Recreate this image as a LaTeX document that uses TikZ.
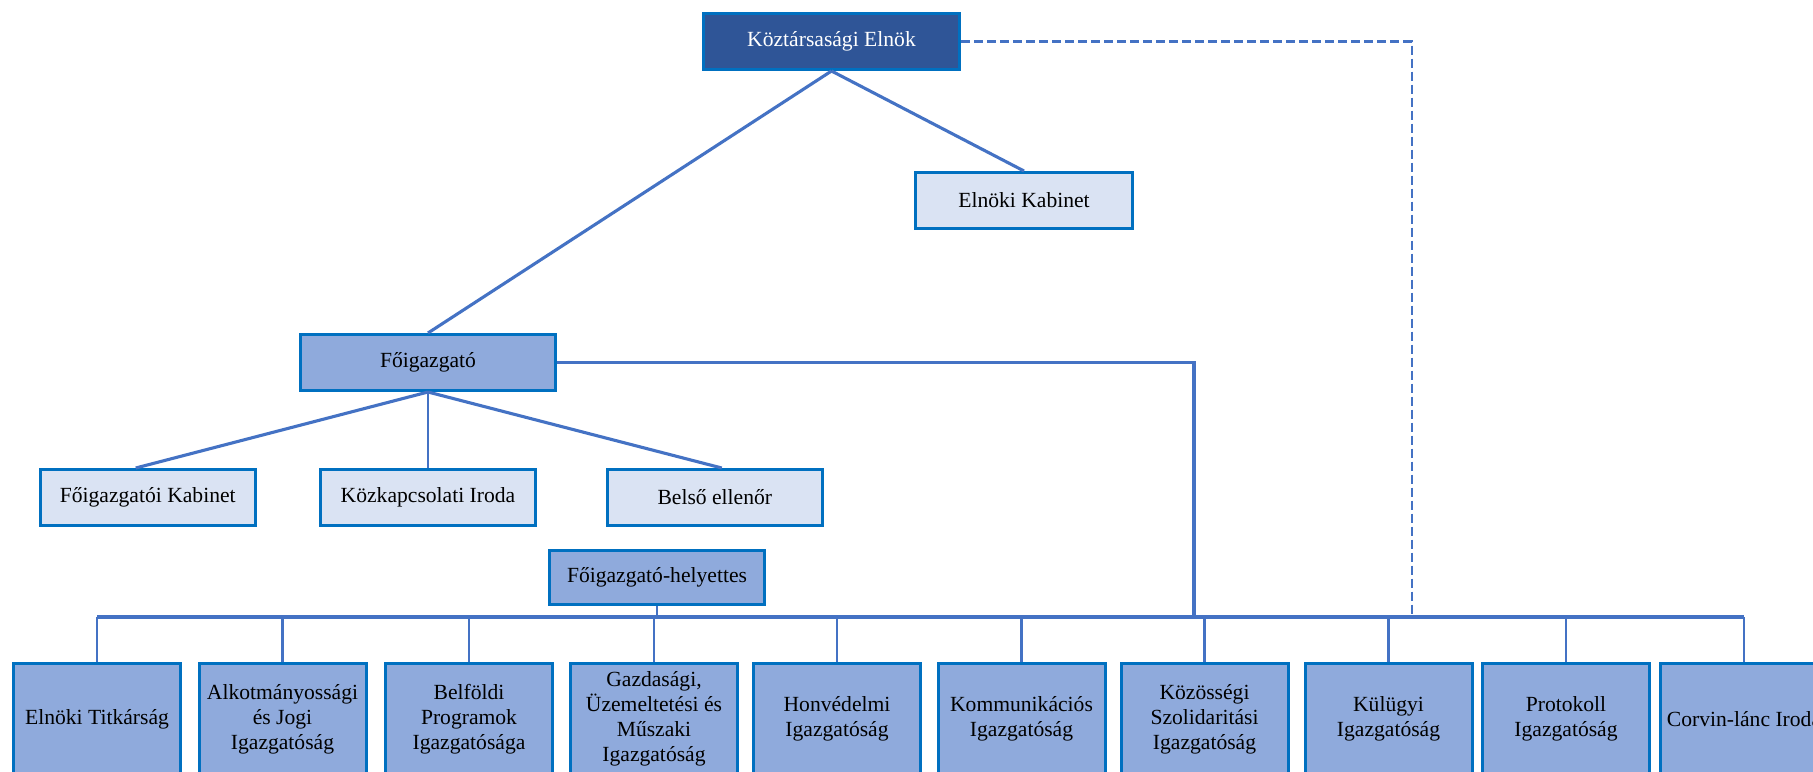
\documentclass[tikz,border=0pt]{standalone}
\usepackage{fontspec}
\setmainfont{Liberation Serif}
\definecolor{bd}{HTML}{0070C0}
\definecolor{ln}{HTML}{4472C4}
\definecolor{dk}{HTML}{2F5597}
\definecolor{md}{HTML}{8FAADC}
\definecolor{lt}{HTML}{DAE3F3}
\begin{document}
\begin{tikzpicture}[x=0.5pt,y=-0.5pt,
 box/.style={draw=bd, line width=1.5pt, inner sep=0pt, align=center, font=\fontsize{10.8}{12.5}\selectfont, text=black},
 dkbox/.style={box, fill=dk, text=white, minimum height=28pt},
 mdbox/.style={box, fill=md},
 ltbox/.style={box, fill=lt, minimum height=28pt, minimum width=107.75pt},
 botbox/.style={box, fill=md, minimum width=83.5pt, minimum height=55.5pt},
 conn/.style={draw=ln, line width=1.55pt},
 drop/.style={draw=ln, line width=1.45pt},
 dashconn/.style={draw=ln, line width=1.4pt, dash pattern=on 4.5pt off 2pt}]
\clip (0,0) rectangle (1813,771);
\fill[white] (0,0) rectangle (1813,771);

\coordinate (barL) at (97,617);
\coordinate (barR) at (1744,617);
\coordinate (j1) at (1194,617);
\coordinate (dj) at (1412,615);

% nodes
\node[dkbox, minimum width=128pt] (elnok) at (831.5,41.5) {Köztársasági Elnök};
\node[ltbox, minimum width=108.5pt] (ekab) at (1024,200.5) {Elnöki Kabinet};
\node[mdbox, minimum width=127.5pt, minimum height=28pt] (foig) at (428,362.5) {Főigazgató};
\node[ltbox] (fk) at (147.75,497.5) {Főigazgatói Kabinet};
\node[ltbox] (kozk) at (428,497.5) {Közkapcsolati Iroda};
\node[ltbox] (belso) at (714.8,497.5) {Belső ellenőr};
\node[mdbox, minimum width=107.5pt, minimum height=27pt] (hely) at (657,577.5) {Főigazgató-helyettes};

\node[botbox] (b1) at (97,719) {Elnöki Titkárság};
\node[botbox] (b2) at (282.5,719) {Alkotmányossági\\és Jogi\\Igazgatóság};
\node[botbox] (b3) at (469,719) {Belföldi\\Programok\\Igazgatósága};
\node[botbox] (b4) at (654,719) {Gazdasági,\\Üzemeltetési és\\Műszaki\\Igazgatóság};
\node[botbox] (b5) at (837,719) {Honvédelmi\\Igazgatóság};
\node[botbox] (b6) at (1021.5,719) {Kommunikációs\\Igazgatóság};
\node[botbox] (b7) at (1204.5,719) {Közösségi\\Szolidaritási\\Igazgatóság};
\node[botbox] (b8) at (1388.5,719) {Külügyi\\Igazgatóság};
\node[botbox] (b9) at (1566,719) {Protokoll\\Igazgatóság};
\node[botbox] (b10) at (1744,719) {Corvin-lánc Iroda};

% connectors
\draw[conn] (elnok.south) -- (foig.north);
\draw[conn] (elnok.south) -- (ekab.north);
\draw[conn] (foig.south) -- ([xshift=-6pt]fk.north);
\draw[drop] (foig.south) -- (kozk.north);
\draw[conn] (foig.south) -- ([xshift=3.5pt]belso.north);
\draw[conn] (foig.east) -| (j1);
\draw[dashconn] (elnok.east) -| (dj);
\draw[conn] (barL) -- (barR);
\draw[drop] (hely.south) -- (hely.south |- barL);
\foreach \b in {b1,b2,b3,b4,b5,b6,b7,b8,b9,b10}{
  \draw[drop] (\b.north) -- (\b.north |- barL);
}
\end{tikzpicture}
\end{document}
